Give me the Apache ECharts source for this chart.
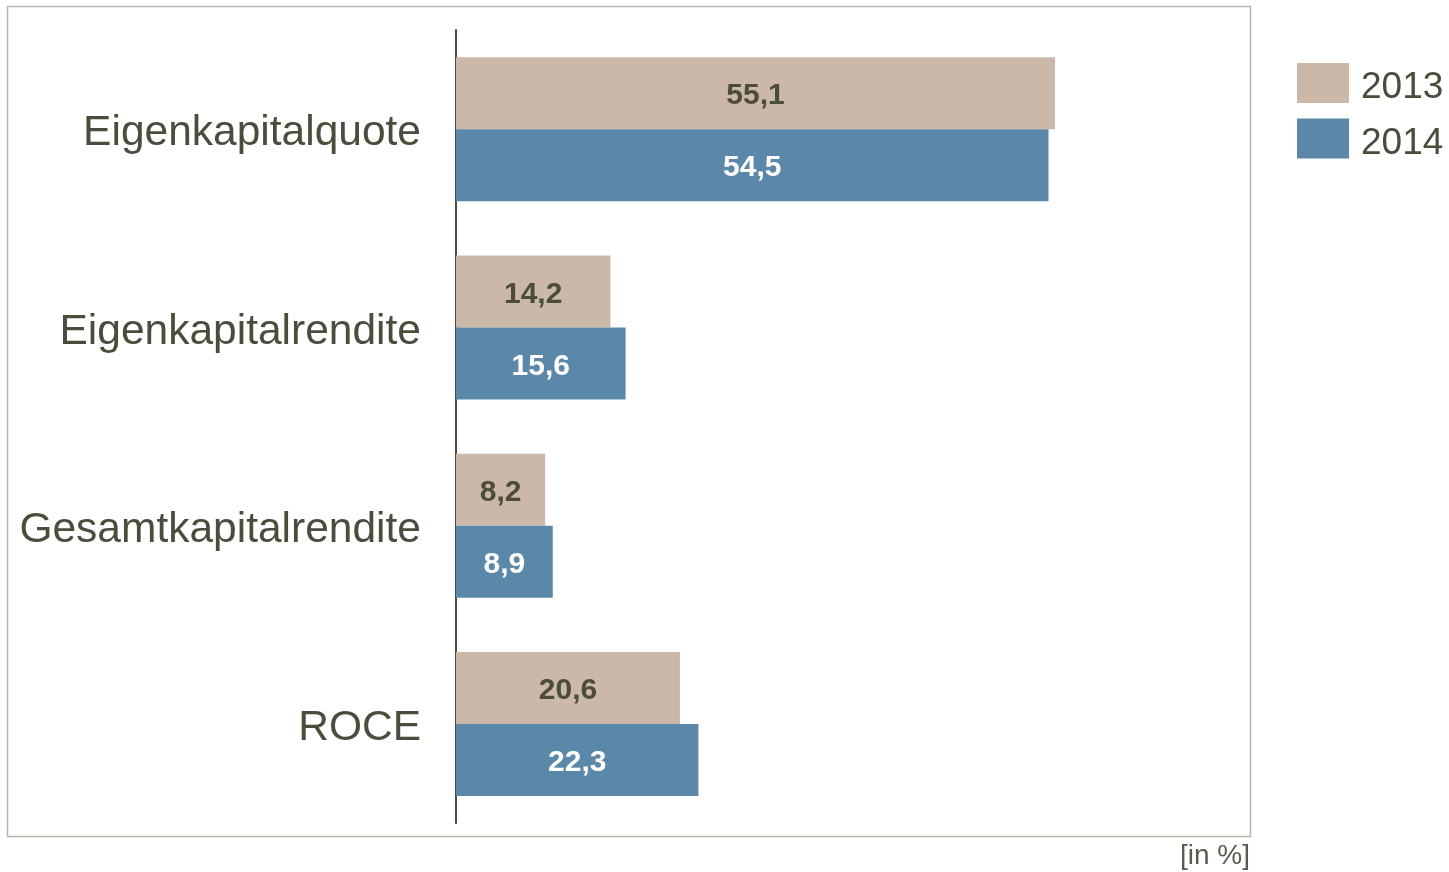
<!DOCTYPE html>
<html>
<head>
<meta charset="utf-8">
<script src="https://cdn.jsdelivr.net/npm/echarts@6/dist/echarts.min.js"></script>
<style>
  html, body { margin: 0; padding: 0; background: #fff; }
  #main { width: 1449px; height: 872px; }
</style>
</head>
<body>
<div id="main"></div>
<script>
// Kennzahlen
var categories = ['Eigenkapitalquote', 'Eigenkapitalrendite', 'Gesamtkapitalrendite', 'ROCE'];
var values2013 = [55.1, 14.2, 8.2, 20.6];
var values2014 = [54.5, 15.6, 8.9, 22.3];
var seriesNames = ['2013', '2014'];

var textColor = '#4b4c3c';
var fmt = function (p) { return String(p.value).replace('.', ','); };

var chart = echarts.init(document.getElementById('main'));
var option = {
  animation: false,
  textStyle: { fontFamily: 'Liberation Sans, Arial, sans-serif' },
  graphic: [
    {
      type: 'rect',
      shape: { x: 7.5, y: 6.5, width: 1243, height: 830 },
      style: { fill: 'none', stroke: '#b5b5a8', lineWidth: 1.5 }
    },
    {
      type: 'text',
      right: 199,
      top: 842,
      style: { text: '[in %]', fontSize: 28, fill: '#5a5b4b', fontFamily: 'Liberation Sans, Arial, sans-serif' }
    }
  ],
  legend: {
    orient: 'vertical',
    left: 1292,
    top: 58,
    itemWidth: 52,
    itemHeight: 40,
    itemGap: 12,
    icon: 'rect',
    data: seriesNames,
    formatter: '{a|{name}}',
    textStyle: {
      color: textColor,
      rich: { a: { fontSize: 37, color: textColor, padding: [10, 0, 0, 7] } }
    }
  },
  grid: { left: 456, top: 30, width: 761, bottom: 49, containLabel: false },
  xAxis: {
    type: 'value',
    min: 0,
    max: 70,
    show: false
  },
  yAxis: {
    type: 'category',
    inverse: true,
    data: categories,
    axisTick: { show: false },
    axisLine: { show: true, lineStyle: { color: textColor, width: 2 } },
    axisLabel: {
      color: textColor,
      margin: 35,
      formatter: function (v) { return '{a|' + v + '}'; },
      rich: { a: { fontSize: 42.5, color: textColor, padding: [9, 0, 0, 0] } }
    }
  },
  series: [
    {
      name: seriesNames[0],
      type: 'bar',
      data: values2013,
      barWidth: 72,
      barGap: '0%',
      itemStyle: { color: '#cbb8a9' },
      label: { show: true, position: 'inside', offset: [0, 3], fontSize: 30, fontWeight: 'bold', color: textColor, formatter: fmt }
    },
    {
      name: seriesNames[1],
      type: 'bar',
      data: values2014,
      barWidth: 72,
      barGap: '0%',
      itemStyle: { color: '#5b88a8' },
      label: { show: true, position: 'inside', offset: [0, 3], fontSize: 30, fontWeight: 'bold', color: '#ffffff', formatter: fmt }
    }
  ]
};
option && chart.setOption(option);
</script>
</body>
</html>
